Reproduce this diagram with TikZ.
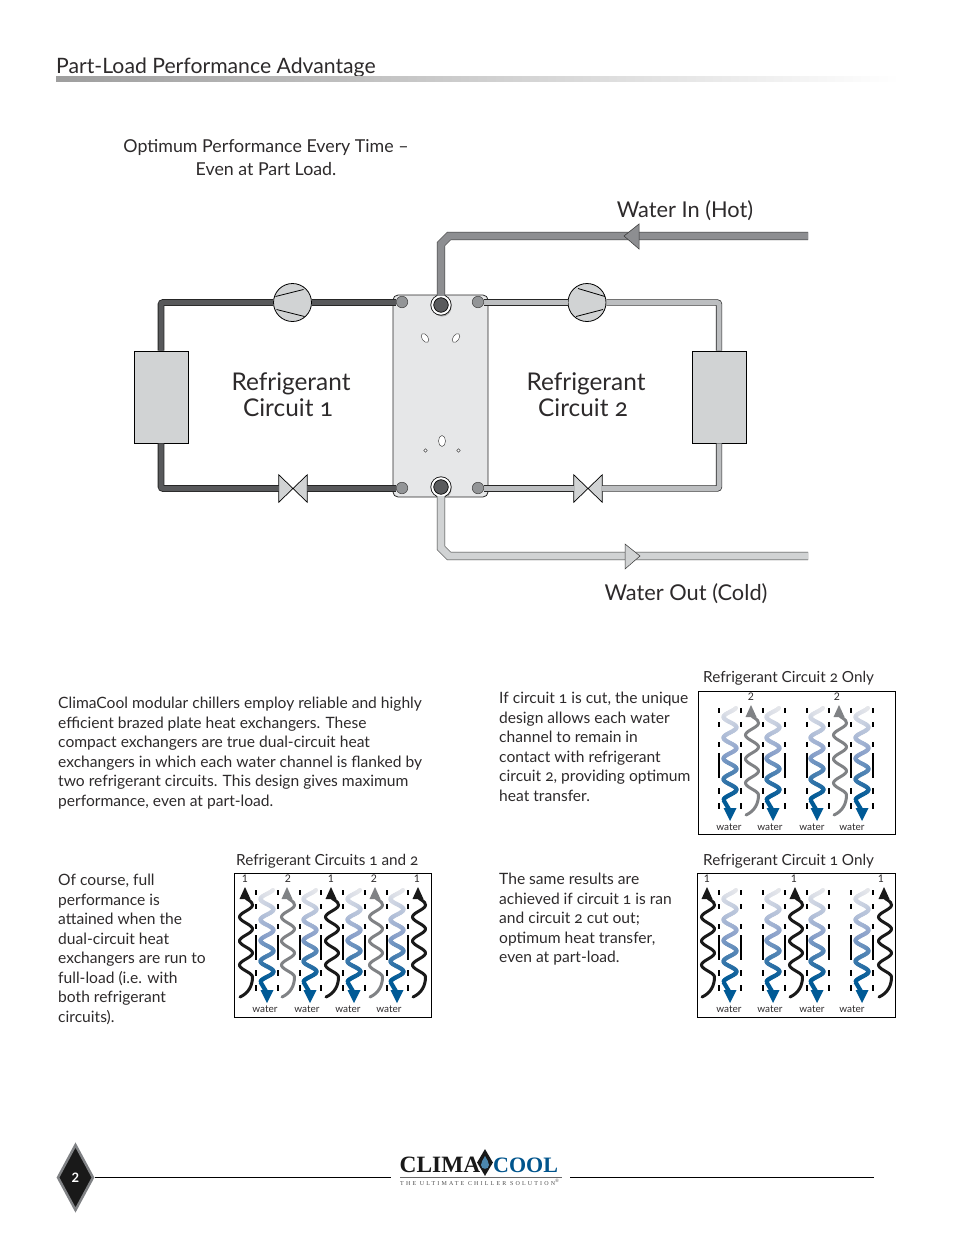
\documentclass[tikz,border=0pt]{standalone}
\usepackage{fontspec}
\setmainfont[Numbers=OldStyle]{Lato}
\newfontfamily\logofont{Liberation Serif}
\newfontfamily\tagfont[LetterSpace=36]{Liberation Serif}
\usetikzlibrary{arrows.meta,positioning,calc,shapes.geometric}
\definecolor{txtcolor}{RGB}{45,42,43}
\definecolor{ref1color}{RGB}{88,89,91}
\definecolor{ref2color}{RGB}{188,190,192}
\definecolor{inColor}{RGB}{128,130,133}
\definecolor{outColor}{RGB}{209,211,212}
\definecolor{plateColor}{RGB}{230,231,232}
\definecolor{wlight}{RGB}{230,231,235}
\definecolor{wmid}{RGB}{141,163,203}
\definecolor{wdark}{RGB}{0,90,150}
\definecolor{logoblue}{RGB}{0,84,140}

% one column of bars between the channels
\newcommand{\barcol}[2]{%
  \foreach \ya/\yb in {17/22,31/36,51/56,62/87,97/103,112/118}
    \draw[line width=1.4,black] (#1,#2+\ya) -- (#1,#2+\yb);
}
% refrigerant going up, with its head
\newcommand{\upwave}[3]{%
  \draw[line width=3,#3,line cap=round] (#1-1,#2+24) .. controls (#1+1,#2+27) and (#1+6.5,#2+28) .. (#1+6.5,#2+32)
    -- plot[domain=32:104,samples=60] ({#1+6.5*cos(15*(\x-32))},{#2+\x})
    .. controls (#1+6.5,#2+112) and (#1+3,#2+120) .. (#1-6,#2+124);
  \fill[#3] (#1-1,#2+14) -- (#1+4.5,#2+26) -- (#1-6.5,#2+26) -- cycle;
}
% water going down, light to dark
\newcommand{\downwave}[2]{%
  \foreach \k in {0,...,72}{
    \pgfmathsetmacro{\ya}{17+1.25*\k}
    \pgfmathsetmacro{\yb}{\ya+1.25}
    \pgfmathtruncatemacro{\pc}{100*\k/72}
    \ifnum\pc<50
      \pgfmathtruncatemacro{\pq}{2*\pc}\colorlet{curwave}{wmid!\pq!wlight}
    \else
      \pgfmathtruncatemacro{\pq}{2*\pc-100}\colorlet{curwave}{wdark!\pq!wmid}
    \fi
    \draw[line width=4.2,curwave,line cap=round] ({#1-6.5*cos(17.35*(\ya-26))},{#2+\ya}) -- ({#1-6.5*cos(17.35*(\yb-26))},{#2+\yb});
  }
  \draw[line width=4.2,wdark] (#1-6.5,#2+109) -- (#1,#2+120);
  \fill[wdark] (#1-6.5,#2+117) -- (#1+6.5,#2+117) -- (#1,#2+130) -- cycle;
}

\begin{document}
\begin{tikzpicture}[x=1pt,y=-1pt,
    bodytxt/.style={text=txtcolor,anchor=north west,align=left,inner sep=0pt,font=\fontsize{15.6}{19.5}\selectfont},
    cirtxt/.style={text=txtcolor,align=center,inner sep=0pt,font=\fontsize{24.4}{26}\selectfont},
    bigtxt/.style={text=txtcolor,inner sep=0pt,font=\fontsize{21.8}{26}\selectfont},
    smalltxt/.style={text=txtcolor,inner sep=0pt,font=\fontsize{10}{12}\selectfont},
    numtxt/.style={text=txtcolor,inner sep=0pt,font=\fontsize{10.5}{12}\selectfont\addfontfeatures{Numbers=Lining}},
    paneltitle/.style={text=txtcolor,anchor=west,inner sep=0pt,font=\fontsize{15.3}{18}\selectfont},
    panelbox/.style={draw=black,line width=0.8,anchor=north west,inner sep=0pt},
    coolbox/.style={draw=black,line width=0.8,fill=outColor,minimum width=54,minimum height=92,inner sep=0pt},
    compbox/.style={circle,draw=black,line width=0.8,fill=outColor,minimum size=38,inner sep=0pt},
    valvebox/.style={minimum width=28,minimum height=27,inner sep=0pt},
    bowtie/.style={draw=black,line width=0.7,fill=outColor},
    portsm/.style={circle,draw=black!70,line width=0.6,fill=inColor!85!white,minimum size=11.5,inner sep=0pt},
    portbig/.style={circle,draw=black,line width=0.8,double=white,double distance=2,fill=inColor!70!black,minimum size=17.5,inner sep=0pt},
    pipeone/.style={draw=black!85,line width=0.8,double=ref1color,double distance=5,rounded corners=2},
    pipetwo/.style={draw=black!85,line width=0.7,double=ref2color,double distance=5,rounded corners=2},
    pipein/.style={draw=black!80,line width=0.5,double=inColor!90!white,double distance=7.4},
    pipeout/.style={draw=black!80,line width=0.5,double=outColor,double distance=7.4},
    hole/.style={draw=black!70,line width=0.5,fill=white}]
  \useasboundingbox (0,0) rectangle (954,1235);

  % heading
  \node[anchor=base west,inner sep=0pt,text=txtcolor,font=\fontsize{21.2}{24}\selectfont] (title) at (56,73) {Part-Load Performance Advantage};
  \shade[left color=black!38,right color=white] (56,76) rectangle (900,81);
  \node[text=txtcolor,align=center,inner sep=0pt,font=\fontsize{17.8}{23}\selectfont] (opt) at (266,158) {Optimum Performance Every Time --\\Even at Part Load.};

  % plate heat exchanger
  \node[draw=black!85,line width=0.8,fill=plateColor,rounded corners=5,minimum width=95,minimum height=202,inner sep=0pt] (plate) at (440.5,396) {};
  \draw[hole,rotate around={35:(425,338)}] (425,338) ellipse (3 and 5);
  \draw[hole,rotate around={-35:(456,338)}] (456,338) ellipse (3 and 5);
  \draw[hole] (442,441) ellipse (3.5 and 5.5);
  \draw[hole] (425.5,450.5) circle (1.8);
  \draw[hole] (458.5,450.5) circle (1.8);
  \fill[black!35] (442,307) circle (9.5);
  \fill[black!35] (442,489) circle (9.5);
  \node[portsm] (p1a) at (402,302) {};
  \node[portsm] (p1b) at (402,488) {};
  \node[portsm] (p2a) at (478,302) {};
  \node[portsm] (p2b) at (478,488) {};
  \node[portbig] (wtop) at (441,305) {};
  \node[portbig] (wbot) at (441,487) {};

  % circuits
  \node[coolbox] (cool1) at (161,397) {};
  \node[coolbox] (cool2) at (719,397) {};
  \node[compbox] (comp1) at (292.5,302.5) {};
  \node[compbox] (comp2) at (587,302.5) {};
  \draw[line width=0.8] ([shift={(-17,-6)}]comp1.center) -- ([shift={(11,-13)}]comp1.center);
  \draw[line width=0.8] ([shift={(-16,7)}]comp1.center) -- ([shift={(12,14)}]comp1.center);
  \draw[line width=0.8] ([shift={(-9,-14)}]comp2.center) -- ([shift={(18,-6)}]comp2.center);
  \draw[line width=0.8] ([shift={(-11,14)}]comp2.center) -- ([shift={(16,7)}]comp2.center);
  \node[valvebox] (valve1) at (293,488.5) {};
  \node[valvebox] (valve2) at (588,488.5) {};
  \draw[bowtie] (valve1.north west) -- (valve1.south east) -- (valve1.north east) -- (valve1.south west) -- cycle;
  \draw[bowtie] (valve2.north west) -- (valve2.south east) -- (valve2.north east) -- (valve2.south west) -- cycle;

  \draw[pipeone] (comp1.west) -| (cool1.north);
  \draw[pipeone] (comp1.east) -- (comp1.east -| p1a.west);
  \draw[pipeone] (cool1.south) |- (valve1.west);
  \draw[pipeone] (valve1.east) -- (valve1.east -| p1b.west);
  \draw[pipetwo] (p2a.east |- comp2.west) -- (comp2.west);
  \draw[pipetwo] (comp2.east) -| (cool2.north);
  \draw[pipetwo] (p2b.east |- valve2.east) -- (valve2.west);
  \draw[pipetwo] (valve2.east) -| (cool2.south);

  % water
  \coordinate (wiend) at (808,236);
  \coordinate (woend) at (808,556);
  \draw[pipein] (wiend) -- (449,236) -- (441,244) -- (wtop.north);
  \draw[pipeout] (wbot.south) -- (441,548) -- (449,556) -- (woend);
  \draw[draw=black!80,line width=0.5,fill=inColor!90!white] (639,224) -- (624,236) -- (639,249) -- cycle;
  \draw[draw=black!80,line width=0.5,fill=outColor] (625,544) -- (640,556) -- (625,569) -- cycle;
  \node[bigtxt] (wintxt) at (685,211) {Water In (Hot)};
  \node[bigtxt] (wouttxt) at (686,594) {Water Out (Cold)};
  \node[cirtxt] (c1txt) at (291,394.5) {Refrigerant\\Circuit 1\hspace*{6pt}};
  \node[cirtxt] (c2txt) at (586,394.5) {Refrigerant\\Circuit 2\hspace*{6pt}};

  % text blocks
  \node[bodytxt] (txta) at (58,697) {ClimaCool modular chillers employ reliable and highly\\efficient brazed plate heat exchangers. These\\compact exchangers are true dual-circuit heat\\exchangers in which each water channel is flanked by\\two refrigerant circuits. This design gives maximum\\performance, even at part-load.};
  \node[bodytxt] (txtb) at (499,692) {If circuit 1 is cut, the unique\\design allows each water\\channel to remain in\\contact with refrigerant\\circuit 2, providing optimum\\heat transfer.};
  \node[bodytxt] (txtc) at (58,874) {Of course, full\\performance is\\attained when the\\dual-circuit heat\\exchangers are run to\\full-load (i.e. with\\both refrigerant\\circuits).};
  \node[bodytxt] (txtd) at (499,873) {The same results are\\achieved if circuit 1 is ran\\and circuit 2 cut out;\\optimum heat transfer,\\even at part-load.};

  % circuit 2 only
  \node[paneltitle] (ttla) at (703,678) {Refrigerant Circuit 2 Only};
  \node[panelbox,minimum width=197,minimum height=143] (boxa) at (698,691) {};
  \foreach \cx in {719,741,763,785,807,829,851,873} {\barcol{\cx}{691}}
  \foreach \wx in {730,773,817,862} {\downwave{\wx}{691}}
  \foreach \wx in {752,840} {\upwave{\wx}{691}{inColor}}
  \foreach \wx/\nm in {751/a,837/b} \node[numtxt] (numa\nm) at (\wx,697) {2};
  \foreach \wx/\nm in {729/a,770/b,812/c,852/d} \node[smalltxt] (wata\nm) at (\wx,827) {water};

  % circuits 1 and 2
  \node[paneltitle] (ttlb) at (236,861) {Refrigerant Circuits 1 and 2};
  \node[panelbox,minimum width=197,minimum height=144] (boxb) at (234,873) {};
  \foreach \cx in {256,278,300,321,343,365,387,408} {\barcol{\cx}{873}}
  \foreach \wx in {267,310,354,397} {\downwave{\wx}{873}}
  \foreach \wx in {288,376} {\upwave{\wx}{873}{inColor}}
  \foreach \wx in {246,332,419} {\upwave{\wx}{873}{black!90}}
  \foreach \wx/\nm/\txt in {245/a/1,288/b/2,331/c/1,374/d/2,417/e/1} \node[numtxt] (numb\nm) at (\wx,879) {\txt};
  \foreach \wx/\nm in {265/a,307/b,348/c,389/d} \node[smalltxt] (watb\nm) at (\wx,1009) {water};

  % circuit 1 only
  \node[paneltitle] (ttlc) at (703,861) {Refrigerant Circuit 1 Only};
  \node[panelbox,minimum width=198,minimum height=144] (boxc) at (697,873) {};
  \foreach \cx in {719,741,763,785,807,829,851,873} {\barcol{\cx}{873}}
  \foreach \wx in {730,773,817,862} {\downwave{\wx}{873}}
  \foreach \wx in {708,796,885} {\upwave{\wx}{873}{black!90}}
  \foreach \wx/\nm in {707/a,794/b,881/c} \node[numtxt] (numc\nm) at (\wx,879) {1};
  \foreach \wx/\nm in {729/a,770/b,812/c,852/d} \node[smalltxt] (watc\nm) at (\wx,1009) {water};

  % footer
  \coordinate (ruleA) at (391,1177.5);
  \coordinate (ruleB) at (570,1177.5);
  \coordinate (ruleC) at (874,1177.5);
  \draw[line width=0.8,black] (ruleB) -- (ruleC);
  \node[draw=inColor,line width=2.5,fill=black!90,diamond,aspect=0.55,minimum width=36,minimum height=66,inner sep=0pt] (pgnum) at (75.5,1177.5) {};
  \draw[line width=0.8,black] (pgnum.east) -- (ruleA);
  \node[text=white,inner sep=0pt,font=\bfseries\fontsize{13}{14}\selectfont] (pgtxt) at (pgnum.center) {\addfontfeatures{Numbers=Lining}2};
  \node[anchor=base west,inner sep=0pt,text=black!90,font=\logofont\bfseries\fontsize{23.4}{26}\selectfont] (lgclima) at (399.5,1172) {CLIMA};
  \node[draw=none,fill=black!90,diamond,aspect=0.6,minimum width=16,minimum height=27,inner sep=0pt] (lgdrop) at (485,1162.5) {};
  \fill[logoblue!70] (485,1156) .. controls (487,1160) and (489,1162) .. (489,1165) .. controls (489,1170) and (481,1170) .. (481,1165) .. controls (481,1162) and (483,1160) .. (485,1156);
  \node[anchor=base west,inner sep=0pt,text=logoblue,font=\logofont\bfseries\fontsize{22}{26}\selectfont] (lgcool) at (493,1172) {COOL};
  \draw[line width=0.3,black!60] (400,1177.5) -- (562,1177.5);
  \node[anchor=base west,inner sep=0pt,text=black!70,font=\tagfont\fontsize{6}{7}\selectfont] (lgtag) at (400,1185) {THE ULTIMATE CHILLER SOLUTION\textsuperscript{®}};
\end{tikzpicture}
\end{document}
